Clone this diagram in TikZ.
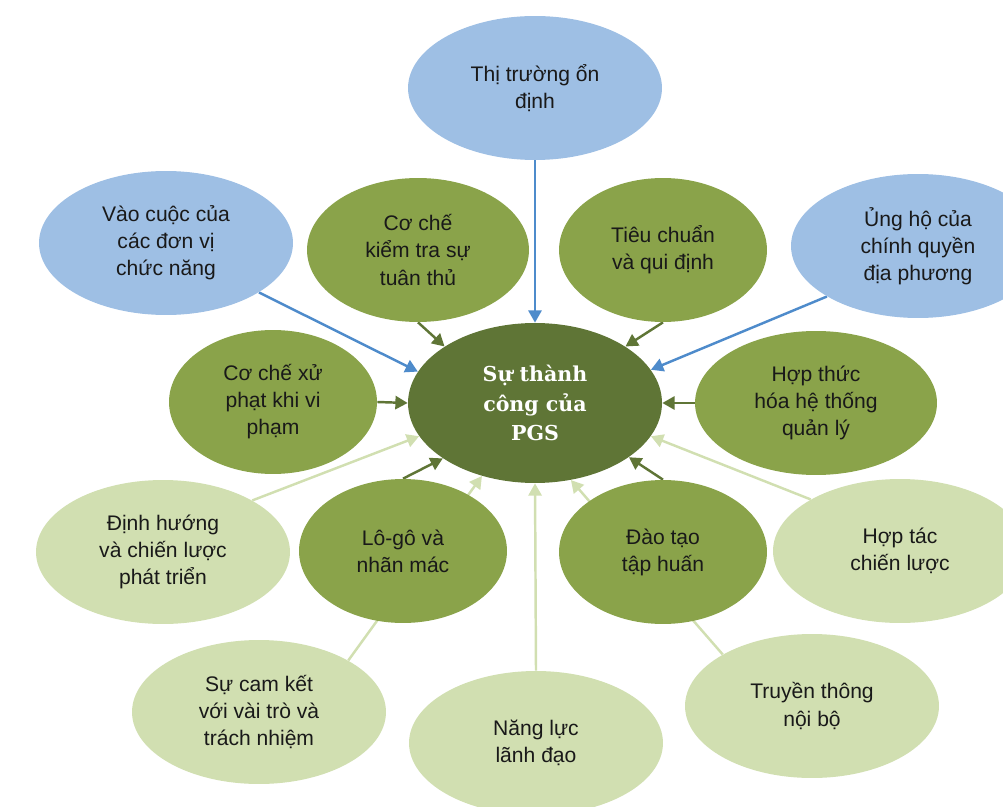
\documentclass[tikz,border=0pt]{standalone}
\usepackage{fontspec}
\setmainfont{Liberation Sans}
\newfontfamily\hubfont{DejaVu Serif}
\usepackage{tikz}
\usetikzlibrary{shapes.geometric,arrows.meta,backgrounds}
\definecolor{pgsdark}{HTML}{5F7536}
\definecolor{pgsmid}{HTML}{8AA34A}
\definecolor{pgslight}{HTML}{D1DFB1}
\definecolor{pgsblue}{HTML}{9EBFE4}
\definecolor{pgsline}{HTML}{4E8BCB}
\tikzset{
  bubble/.style={ellipse,inner sep=0pt,align=center,minimum width=5.08cm,minimum height=2.88cm,
    text=black!90,font=\fontsize{12}{15.4}\selectfont},
  bluebubble/.style={bubble,fill=pgsblue},
  midbubble/.style={bubble,fill=pgsmid,minimum width=4.16cm},
  lightbubble/.style={bubble,fill=pgslight},
  hub/.style={ellipse,inner sep=0pt,align=center,minimum width=5.08cm,minimum height=3.2cm,
    fill=pgsdark,text=white,font=\hubfont\bfseries\fontsize{11.7}{17}\selectfont},
  feed/.style={line width=1.4pt,-{Triangle[length=7pt,width=7.5pt]}},
  bluefeed/.style={feed,pgsline},
  darkfeed/.style={feed,pgsdark},
  lightfeed/.style={feed,pgslight}
}
\begin{document}
\begin{tikzpicture}[x=0.02cm,y=-0.02cm]
\clip (0,0) rectangle (1003,807);
\node [hub] (pgs) at (535,403) {Sự thành\\công của\\PGS};
\node [bluebubble] (market) at (535,88) {Thị trường ổn\\định};
\node [bluebubble] (agencies) at (166,243) {Vào cuộc của\\các đơn vị\\chức năng};
\node [midbubble,minimum width=4.44cm] (inspect) at (418,250) {Cơ chế\\kiểm tra sự\\tuân thủ};
\node [midbubble] (standards) at (663,250) {Tiêu chuẩn\\và qui định};
\node [bluebubble] (localgov) at (918,246) {Ủng hộ của\\chính quyền\\địa phương};
\node [midbubble] (penalty) at (273,402) {Cơ chế xử\\phạt khi vi\\phạm};
\node [midbubble,minimum width=4.84cm] (legal) at (816,403) {Hợp thức\\hóa hệ thống\\quản lý};
\node [lightbubble] (strategy) at (163,552) {Định hướng\\và chiến lược\\phát triển};
\node [midbubble] (logo) at (403,551) {Lô-gô và\\nhãn mác};
\node [midbubble] (training) at (663,552) {Đào tạo\\tập huấn};
\node [lightbubble] (partner) at (900,551) {Hợp tác\\chiến lược};
\node [lightbubble] (commit) at (259,712) {Sự cam kết\\với vài trò và\\trách nhiệm};
\node [lightbubble] (leader) at (536,743) {Năng lực\\lãnh đạo};
\node [lightbubble] (comms) at (812,706) {Truyền thông\\nội bộ};
\begin{pgfonlayer}{background}
\draw [bluefeed] (market.south) -- (pgs.north);
\draw [bluefeed] (agencies.-28) -- (pgs.165);
\draw [bluefeed] (localgov.-151) -- (pgs.16);
\draw [darkfeed] (inspect.south) -- (pgs.148);
\draw [darkfeed] (standards.south) -- (pgs.32);
\draw [darkfeed] (penalty.east) -- (pgs.west);
\draw [darkfeed] (legal.west) -- (pgs.east);
\draw [lightfeed] (strategy.30) -- (pgs.-164);
\draw [darkfeed] (logo.north) -- (pgs.-149);
\draw [lightfeed] (commit.30) -- (pgs.-126);
\draw [lightfeed] (leader.north) -- (pgs.south);
\draw [darkfeed] (training.north) -- (pgs.-30);
\draw [lightfeed] (comms.150) -- (pgs.-65);
\draw [lightfeed] (partner.150) -- (pgs.-16);
\end{pgfonlayer}
\end{tikzpicture}
\end{document}
